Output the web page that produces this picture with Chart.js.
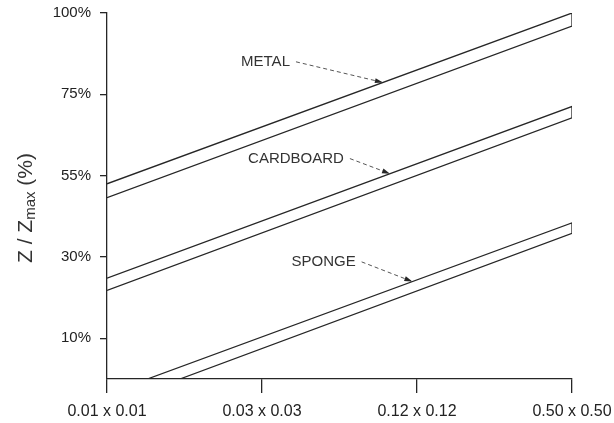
<!DOCTYPE html>
<html>
<head>
<meta charset="utf-8">
<script src="https://cdn.jsdelivr.net/npm/chart.js@4.4.1/dist/chart.umd.min.js"></script>
<style>
  html, body { margin: 0; padding: 0; background: #fff; }
  #wrap { width: 614px; height: 423px; position: relative; }
</style>
</head>
<body>
<div id="wrap"><canvas id="zChart"></canvas></div>
<script>
// x axis: contact area sizes, placed at equal steps 0..3
const sizes = ["0.01 x 0.01", "0.03 x 0.03", "0.12 x 0.12", "0.50 x 0.50"];
const sizePos = [0, 1, 2, 3];

// y axis: Z / Zmax levels, placed at equal steps 1..5 (axis starts at 0.5)
const zLevels = ["10%", "30%", "55%", "75%", "100%"];
const zPos = [1, 2, 3, 4, 5];

// each band: upper edge then lower edge (in axis steps), closed at the largest size
const metalX = [0, 3, 3, 0];
const metalY = [2.90, 5.00, 4.84, 2.73];

const cardboardX = [0, 3, 3, 0];
const cardboardY = [1.74, 3.85, 3.71, 1.59];

const spongeX = [0, 0.26, 3, 3, 0.47];
const spongeY = [0.5, 0.5, 2.42, 2.29, 0.5];

// labels with leader arrows: text anchor and where the arrow hits the upper edge
const noteText = ["METAL", "CARDBOARD", "SPONGE"];
const noteX = [0.865, 0.91, 1.19];
const noteY = [4.40, 3.21, 1.94];
const noteTipX = [1.78, 1.826, 1.97];

const ink = "#262626";

function pts(xs, ys) {
  return xs.map((x, i) => ({ x: x, y: ys[i] }));
}

function band(label, xs, ys) {
  return {
    label: label,
    data: pts(xs, ys),
    borderColor: ink,
    borderWidth: 1.3,
    pointRadius: 0,
    tension: 0,
    fill: false
  };
}

// y on the upper edge of a band at a given x
function upperAt(xs, ys, x) {
  for (let i = 0; i < xs.length - 1; i++) {
    if (xs[i + 1] > xs[i] && x >= xs[i] && x <= xs[i + 1]) {
      const t = (x - xs[i]) / (xs[i + 1] - xs[i]);
      return ys[i] + t * (ys[i + 1] - ys[i]);
    }
  }
  return ys[0];
}

const bandsX = [metalX, cardboardX, spongeX];
const bandsY = [metalY, cardboardY, spongeY];

const notesPlugin = {
  id: "notes",
  afterDatasetsDraw(chart) {
    const ctx = chart.ctx;
    const xs = chart.scales.x, ys = chart.scales.y;
    ctx.save();
    ctx.font = "15px 'Liberation Sans', Arial, sans-serif";
    ctx.textBaseline = "middle";
    ctx.fillStyle = "#333";
    noteText.forEach((t, i) => {
      const tx = xs.getPixelForValue(noteX[i]);
      const ty = ys.getPixelForValue(noteY[i]);
      ctx.fillText(t, tx, ty);
      const sx = tx + ctx.measureText(t).width + 6;
      const ex = xs.getPixelForValue(noteTipX[i]);
      const ey = ys.getPixelForValue(upperAt(bandsX[i], bandsY[i], noteTipX[i]));
      // dashed leader
      ctx.strokeStyle = "#555";
      ctx.lineWidth = 1;
      ctx.setLineDash([4, 3]);
      ctx.beginPath();
      ctx.moveTo(sx, ty);
      ctx.lineTo(ex, ey);
      ctx.stroke();
      ctx.setLineDash([]);
      // arrow head
      const a = Math.atan2(ey - ty, ex - sx);
      ctx.fillStyle = ink;
      ctx.beginPath();
      ctx.moveTo(ex, ey);
      ctx.lineTo(ex - 8 * Math.cos(a) + 2.5 * Math.sin(a), ey - 8 * Math.sin(a) - 2.5 * Math.cos(a));
      ctx.lineTo(ex - 8 * Math.cos(a) - 2.5 * Math.sin(a), ey - 8 * Math.sin(a) + 2.5 * Math.cos(a));
      ctx.closePath();
      ctx.fill();
      ctx.fillStyle = "#333";
    });
    ctx.restore();
  }
};

// rotated y title with subscript "max"
const yTitlePlugin = {
  id: "yTitle",
  afterDraw(chart) {
    const ctx = chart.ctx;
    const parts = [
      { t: "Z / Z", f: "21px", dy: 0 },
      { t: "max", f: "15px", dy: 3 },
      { t: " (%)", f: "21px", dy: 0 }
    ];
    ctx.save();
    let total = 0;
    parts.forEach(p => {
      ctx.font = p.f + " 'Liberation Sans', Arial, sans-serif";
      p.w = ctx.measureText(p.t).width;
      total += p.w;
    });
    ctx.translate(32, 208);
    ctx.rotate(-Math.PI / 2);
    ctx.fillStyle = "#333";
    ctx.textBaseline = "alphabetic";
    let x = -total / 2;
    parts.forEach(p => {
      ctx.font = p.f + " 'Liberation Sans', Arial, sans-serif";
      ctx.fillText(p.t, x, p.dy);
      x += p.w;
    });
    ctx.restore();
  }
};

new Chart(document.getElementById("zChart"), {
  type: "line",
  data: {
    datasets: [
      band("Metal", metalX, metalY),
      band("Cardboard", cardboardX, cardboardY),
      band("Sponge", spongeX, spongeY)
    ]
  },
  options: {
    responsive: true,
    maintainAspectRatio: false,
    animation: false,
    layout: {
      padding: { top: 13, right: 42, left: 0, bottom: 0 }
    },
    scales: {
      x: {
        type: "linear",
        min: 0,
        max: 3,
        afterBuildTicks: s => { s.ticks = sizePos.map(v => ({ value: v })); },
        afterFit: s => {
          s.height = 44;
          s.paddingLeft = 0;
          s.paddingRight = 0;
        },
        grid: {
          drawOnChartArea: false,
          drawTicks: true,
          tickLength: 14,
          color: ink,
          lineWidth: 1.3
        },
        border: { display: true, color: ink, width: 1.3 },
        ticks: {
          padding: 9,
          color: "#222",
          maxRotation: 0,
          autoSkip: false,
          font: { family: "'Liberation Sans', Arial, sans-serif", size: 16 },
          callback: (v, i) => sizes[i]
        }
      },
      y: {
        type: "linear",
        min: 0.5,
        max: 5,
        afterBuildTicks: s => { s.ticks = zPos.map(v => ({ value: v })); },
        afterFit: s => {
          s.width = 107;
          s.paddingTop = 0;
          s.paddingBottom = 0;
        },
        grid: {
          drawOnChartArea: false,
          drawTicks: true,
          tickLength: 7,
          color: ink,
          lineWidth: 1.3
        },
        border: { display: true, color: ink, width: 1.3 },
        ticks: {
          padding: 9,
          color: "#222",
          autoSkip: false,
          font: { family: "'Liberation Sans', Arial, sans-serif", size: 15 },
          callback: (v, i) => zLevels[i]
        }
      }
    },
    plugins: {
      legend: { display: false },
      tooltip: { enabled: false }
    }
  },
  plugins: [notesPlugin, yTitlePlugin]
});
</script>
</body>
</html>
